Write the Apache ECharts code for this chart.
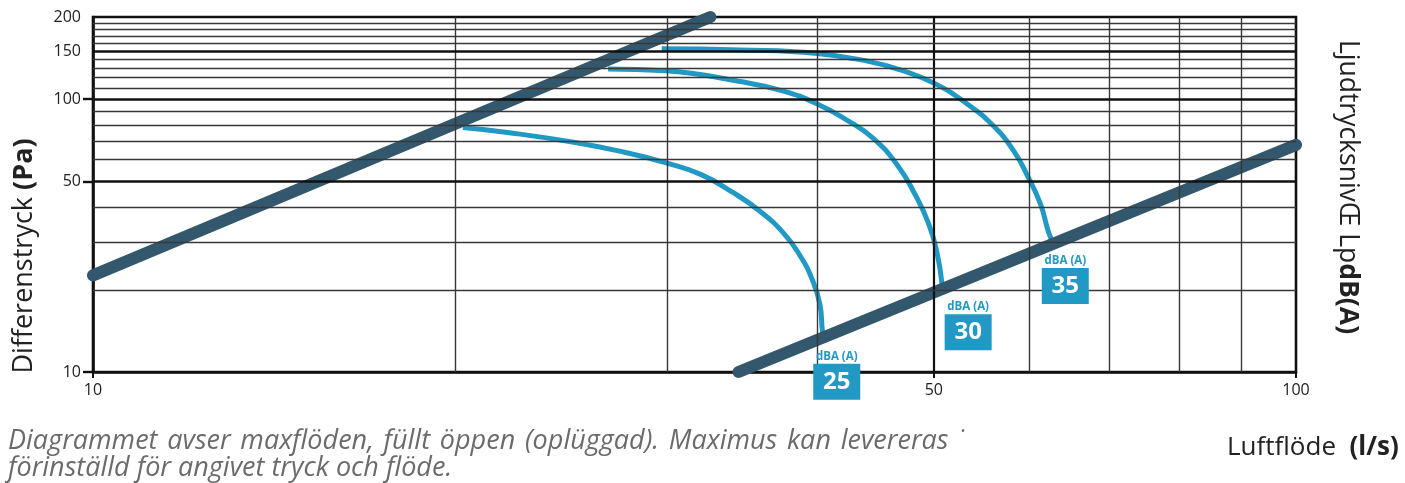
<!DOCTYPE html>
<html>
<head>
<meta charset="utf-8">
<script src="https://cdn.jsdelivr.net/npm/echarts@6/dist/echarts.min.js"></script>
<style>
html, body { margin: 0; padding: 0; background: #fff; }
#chart { width: 1405px; height: 483px; }
</style>
</head>
<body>
<div id="chart"></div>
<script>
// Luftflöde (l/s) , Differenstryck (Pa)
const minLine = [[10, 22.6], [32.6, 200]];
const maxLine = [[34.4, 10], [100, 68]];
const curve25 = [[20.3, 78.7], [22.1, 75.5], [25.1, 69.5], [27.6, 64], [29.9, 58.5], [32.0, 53], [34.0, 45.6], [35.8, 39], [37.5, 32.3], [38.7, 26.7], [39.6, 21.9], [40.2, 17.7], [40.4, 14.1], [40.5, 13.7]];
const curve30 = [[26.8, 129], [29.9, 127], [34.5, 116], [37.5, 107], [40.0, 96], [42.4, 83.4], [44.5, 72], [46.6, 57.5], [48.2, 45], [49.5, 35], [50.3, 27.4], [50.8, 20.8]];
const curve35 = [[29.7, 153], [34.5, 151.5], [40.0, 147], [44.3, 137], [46.9, 128], [50.1, 114], [53.3, 96], [56.0, 80], [58.2, 65], [59.9, 51.7], [61.3, 41.4], [62.2, 33.1], [62.6, 30.7]];
const levels = [25, 30, 35];

const xLabels = [10, 50, 100];
const xTicks = [10, 50, 100];
const yLabels = [10, 50, 100, 150, 200];
const yTicks = [10, 50, 100];
const xGridThin = [20, 30, 40, 60, 70, 80, 90];
const xGridBold = [50];
const yGridThin = [20, 30, 40, 60, 70, 80, 90, 110, 120, 130, 140, 160, 170, 180, 190];
const yGridBold = [50, 100, 150];

const dark = '#33576c';
const blue = '#2199c4';
const thin = { color: '#383838', width: 1.4, type: 'solid' };
const bold = { color: '#111', width: 2.6, type: 'solid' };

const gridLines = [].concat(
  xGridThin.map(v => ({ xAxis: v, lineStyle: thin })),
  xGridBold.map(v => ({ xAxis: v, lineStyle: { color: '#111', width: 2.2, type: 'solid' } })),
  yGridThin.map(v => ({ yAxis: v, lineStyle: thin })),
  yGridBold.map(v => ({ yAxis: v, lineStyle: bold }))
);

// etikett-förskjutning från kurvans slutpunkt
const labelOffsets = [[13, 40], [26, 40], [14, 40]];

function levelCurve(data, idx) {
  return {
    type: 'line',
    data: data,
    smooth: 0.5,
    symbol: 'none',
    clip: false,
    z: 3,
    lineStyle: { color: blue, width: 5 },
    markPoint: {
      symbol: 'rect',
      symbolSize: 1,
      itemStyle: { color: 'rgba(0,0,0,0)' },
      silent: true,
      data: [{ coord: data[data.length - 1], value: levels[idx] }],
      label: {
        show: true,
        position: 'inside',
        offset: labelOffsets[idx],
        formatter: p => '{t|dBA (A)}\n{n|' + p.value + '}',
        rich: {
          t: { fontFamily: 'Open Sans', fontSize: 11.5, fontWeight: 'bold', color: blue, lineHeight: 14, align: 'center' },
          n: { fontFamily: 'Open Sans', fontSize: 24, fontWeight: 'bold', color: '#fff', backgroundColor: blue,
               width: 47, height: 36, lineHeight: 36, align: 'center' }
        }
      }
    }
  };
}

const chart = echarts.init(document.getElementById('chart'));
const option = {
  animation: false,
  grid: { left: 93, right: 109, top: 17, bottom: 111, show: true, borderColor: '#111', borderWidth: 2.6, backgroundColor: 'transparent' },
  xAxis: {
    type: 'log', logBase: 10, min: 10, max: 100,
    axisLine: { lineStyle: { color: '#111', width: 2.6 } },
    axisTick: { customValues: xTicks, length: 6, lineStyle: { color: '#111', width: 2 } },
    axisLabel: { customValues: xLabels, color: '#222', fontSize: 16, fontFamily: 'Open Sans', margin: 10 },
    splitLine: { show: false }
  },
  yAxis: {
    type: 'log', logBase: 10, min: 10, max: 200,
    axisLine: { lineStyle: { color: '#111', width: 2.6 } },
    axisTick: { customValues: yTicks, length: 10, lineStyle: { color: '#111', width: 2.4 } },
    axisLabel: { customValues: yLabels, color: '#222', fontSize: 16, fontFamily: 'Open Sans', margin: 12 },
    splitLine: { show: false }
  },
  series: [
    {
      type: 'line', data: [], z: 1, silent: true,
      markLine: { symbol: ['none', 'none'], silent: true, label: { show: false }, data: gridLines }
    },
    levelCurve(curve25, 0),
    levelCurve(curve30, 1),
    levelCurve(curve35, 2),
    { type: 'line', data: minLine, symbol: 'none', clip: false, z: 4, lineStyle: { color: dark, width: 12, cap: 'round' } },
    { type: 'line', data: maxLine, symbol: 'none', clip: false, z: 4, lineStyle: { color: dark, width: 12, cap: 'round' } }
  ],
  graphic: [
    {
      type: 'text', x: 24, y: 256, rotation: Math.PI / 2,
      style: {
        text: 'Differenstryck {b|(Pa)}', fill: '#222', font: '27px "Open Sans"', align: 'center', verticalAlign: 'middle',
        rich: { b: { fontFamily: 'Open Sans', fontSize: 27, fontWeight: 'bold', fill: '#222' } }
      }
    },
    {
      type: 'text', x: 1348, y: 187, rotation: -Math.PI / 2,
      style: {
        text: 'LjudtrycksnivŒ Lp{b|dB(A)}', fill: '#222', font: '26.5px "Open Sans"', align: 'center', verticalAlign: 'middle',
        rich: { b: { fontFamily: 'Open Sans', fontSize: 26.5, fontWeight: 'bold', fill: '#222' } }
      }
    },
    {
      type: 'text', x: 1227, y: 448,
      style: {
        text: 'Luftflöde  {b|(l/s)}', fill: '#222', font: '26px "Open Sans"', align: 'left', verticalAlign: 'middle',
        rich: { b: { fontFamily: 'Open Sans', fontSize: 26, fontWeight: 'bold', fill: '#222' } }
      }
    },
    {
      type: 'text', x: 8, y: 441,
      style: { text: 'Diagrammet \u200Aavser \u200Amaxflöden, \u200Afüllt \u200Aöppen \u200A(oplüggad). \u200AMaximus \u200Akan \u200Alevereras \u200A˙', fill: '#6b6b6b', font: 'italic 27px "Open Sans"', align: 'left', verticalAlign: 'middle' }
    },
    {
      type: 'text', x: 8, y: 468,
      style: { text: 'förinställd för angivet tryck och flöde.', fill: '#6b6b6b', font: 'italic 27px "Open Sans"', align: 'left', verticalAlign: 'middle' }
    }
  ]
};
chart.setOption(option);
</script>
</body>
</html>
